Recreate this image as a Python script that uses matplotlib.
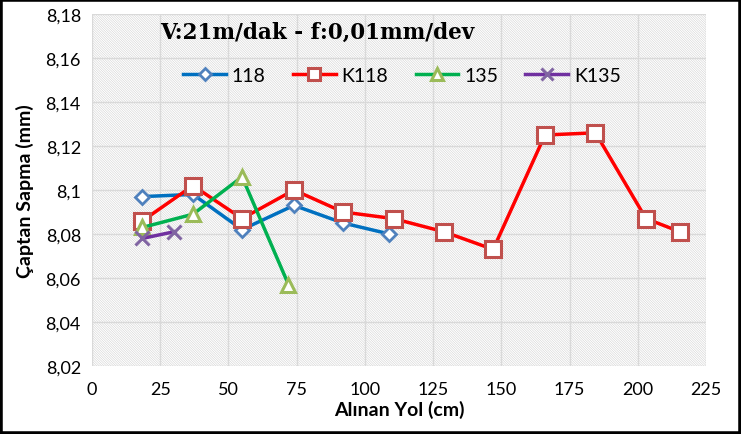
import matplotlib
matplotlib.use('Agg')
from matplotlib import pyplot as plt
from matplotlib.patches import Rectangle
import numpy as np

#------------------------------------------------------------------
# Data.
#
x_118 = [18.5, 37, 55, 74, 92, 109]
y_118 = [8.097, 8.098, 8.082, 8.093, 8.085, 8.080]

x_k118 = [18.5, 37, 55, 74, 92, 110.5, 129, 147, 166, 184.5, 203, 215.5]
y_k118 = [8.086, 8.102, 8.087, 8.100, 8.090, 8.087, 8.081, 8.073, 8.125, 8.126, 8.087, 8.081]

x_135 = [18.5, 37, 55, 72]
y_135 = [8.083, 8.089, 8.106, 8.057]

x_k135 = [18.5, 30]
y_k135 = [8.078, 8.081]

x_ticks = [0, 25, 50, 75, 100, 125, 150, 175, 200, 225]
y_ticks = [8.02, 8.04, 8.06, 8.08, 8.10, 8.12, 8.14, 8.16, 8.18]
y_tick_labels = ['8,02', '8,04', '8,06', '8,08', '8,1', '8,12', '8,14', '8,16', '8,18']

title = 'V:21m/dak - f:0,01mm/dev'

#------------------------------------------------------------------
# Figure.
#
fam = ['Lato', 'DejaVu Sans']
plt.rcParams['font.family'] = fam
plt.rcParams['hatch.linewidth'] = 0.35
plt.rcParams['hatch.color'] = '#cccccc'

fig = plt.figure(figsize=(7.41, 4.35), dpi=100)
ax = fig.add_axes([92 / 741, 1 - 367 / 435, 614 / 741, 352 / 435])

# hatched plot area
ax.set_facecolor('white')
ax.add_patch(Rectangle((0, 0), 1, 1, transform=ax.transAxes, facecolor='white',
                       edgecolor='#cccccc', hatch='\\' * 14, linewidth=0, zorder=0))

ax.set_xlim(0, 225)
ax.set_ylim(8.02, 8.18)
ax.set_xticks(x_ticks)
ax.set_yticks(y_ticks)
ax.set_yticklabels(y_tick_labels)
ax.grid(True, color='#d9d9d9', linewidth=1.0, zorder=1)
ax.set_axisbelow(True)
for s in ax.spines.values():
    s.set_visible(False)
ax.tick_params(length=0, labelsize=13, pad=8, labelcolor='black')
ax.tick_params(axis='x', pad=11)

ax.plot(x_118, y_118, '-D', color='#0070c0', markerfacecolor='white',
        markeredgecolor='#4f81bd', markeredgewidth=2, markersize=7, linewidth=2.5,
        label='118', zorder=3)
ax.plot(x_k118, y_k118, '-s', color='#ff0000', markerfacecolor='white',
        markeredgecolor='#c0504d', markeredgewidth=2.2, markersize=11, linewidth=2.5,
        label='K118', zorder=3)
ax.plot(x_135, y_135, '-^', color='#00b050', markerfacecolor='white',
        markeredgecolor='#9bbb59', markeredgewidth=2.2, markersize=10, linewidth=2.5,
        label='135', zorder=3)
ax.plot(x_k135, y_k135, '-x', color='#7030a0', markeredgecolor='#8064a2',
        markeredgewidth=2.2, markersize=10, linewidth=2.5, label='K135', zorder=3)

ax.set_xlabel('Alınan Yol (cm)', fontsize=14, fontweight='bold', labelpad=2)
ax.set_ylabel('Çaptan Sapma (mm)', fontsize=14, fontweight='bold', labelpad=8)

ax.text(0.111, 0.98, title, transform=ax.transAxes,
        fontsize=15.5, fontweight='bold', family=['DejaVu Serif'], va='top', ha='left')

leg = ax.legend(loc='upper center', bbox_to_anchor=(0.505, 0.9), ncol=4, frameon=False,
                fontsize=14, handlelength=2.2, columnspacing=1.4, handletextpad=0.3,
                markerscale=0.85)

# black border round the chart
fig.patches.append(Rectangle((0, 0), 1, 1, transform=fig.transFigure, fill=False,
                             edgecolor='black', linewidth=4))

fig.savefig('out.png', dpi=100)
